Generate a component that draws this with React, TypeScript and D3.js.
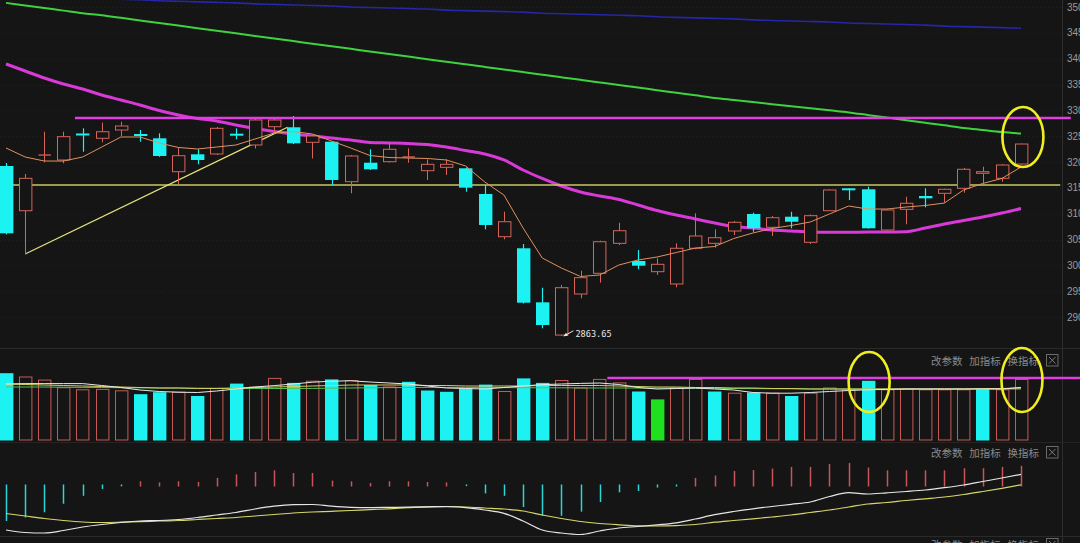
import React from 'react';
import * as d3 from 'd3';

// ---------- data ----------
const opens = [3192.3, 3105.7, 3212.6, 3203.9, 3255.2, 3245.9, 3261.9, 3254.2, 3245.9, 3181.2, 3214.9, 3215.5, 3254.8, 3232.9, 3268.3, 3267.2, 3238.1, 3239.3, 3161.9, 3198.6, 3200.6, 3207.7, 3183.2, 3189.7, 3187.8, 3138.1, 3055.4, 3033.0, 2928.4, 2865.0, 2944.5, 2984.6, 3042.6, 3008.4, 2987.7, 2963.9, 3033.0, 3042.6, 3066.4, 3099.4, 3073.6, 3094.1, 3044.6, 3105.7, 3149.1, 3147.2, 3068.4, 3108.4, 3134.2, 3139.4, 3149.1, 3178.1, 3168.4, 3196.1];
const highs = [3198.1, 3176.8, 3258.6, 3258.6, 3265.2, 3276.1, 3278.0, 3261.9, 3255.5, 3228.4, 3224.6, 3267.7, 3265.2, 3285.2, 3287.1, 3289.0, 3252.3, 3240.6, 3213.5, 3224.6, 3237.4, 3226.5, 3205.2, 3205.2, 3189.3, 3155.5, 3103.8, 3041.3, 2956.7, 2961.9, 2989.6, 3047.7, 3082.5, 3029.7, 3013.6, 3042.6, 3100.7, 3069.7, 3085.8, 3101.9, 3095.5, 3103.8, 3098.4, 3146.8, 3149.7, 3152.2, 3108.1, 3132.8, 3149.1, 3148.3, 3188.4, 3190.9, 3196.1, 3235.8];
const lows = [3060.0, 3021.9, 3199.4, 3197.5, 3219.9, 3238.1, 3250.3, 3239.3, 3210.0, 3157.4, 3195.5, 3213.5, 3243.9, 3226.1, 3255.5, 3234.8, 3206.8, 3155.5, 3139.4, 3184.5, 3199.0, 3198.6, 3165.2, 3174.8, 3142.5, 3069.7, 3050.4, 2926.1, 2878.1, 2863.65, 2936.2, 2966.4, 3039.3, 2992.3, 2981.3, 2957.5, 3031.0, 3034.1, 3058.7, 3065.1, 3056.8, 3071.7, 3041.3, 3105.2, 3126.4, 3071.3, 3067.4, 3079.4, 3112.3, 3121.2, 3140.6, 3158.8, 3161.9, 3195.2];
const closes = [3062.0, 3168.4, 3213.5, 3249.0, 3253.2, 3258.6, 3269.7, 3251.3, 3211.6, 3212.2, 3203.9, 3265.2, 3252.8, 3281.3, 3281.3, 3236.2, 3250.3, 3165.2, 3211.6, 3185.9, 3224.6, 3209.7, 3195.5, 3195.5, 3150.3, 3078.1, 3084.4, 2927.7, 2884.5, 2956.7, 2976.1, 3045.7, 3067.0, 2999.3, 3002.0, 3033.0, 3056.8, 3053.5, 3083.3, 3071.7, 3092.2, 3084.4, 3096.1, 3145.8, 3145.8, 3071.7, 3107.1, 3120.1, 3129.7, 3147.2, 3185.9, 3181.2, 3194.2, 3234.8];

const ma5 = [3227.1, 3209.7, 3201.9, 3201.9, 3209.7, 3229.0, 3248.4, 3248.4, 3236.8, 3228.1, 3225.2, 3229.0, 3232.9, 3244.5, 3256.1, 3259.0, 3254.2, 3240.6, 3227.1, 3212.6, 3208.7, 3207.7, 3206.8, 3203.9, 3192.3, 3161.3, 3136.1, 3072.3, 3014.2, 2994.8, 2978.4, 2981.3, 3000.6, 3010.3, 3016.1, 3024.8, 3033.5, 3036.4, 3051.9, 3062.6, 3071.3, 3077.1, 3083.9, 3099.4, 3114.8, 3109.0, 3109.0, 3112.9, 3115.8, 3120.6, 3145.8, 3158.4, 3168.1, 3190.3];
const ma20 = [3389.7, 3376.1, 3362.6, 3351.0, 3341.3, 3329.7, 3320.0, 3310.3, 3299.7, 3291.0, 3284.2, 3279.4, 3271.6, 3264.8, 3259.0, 3254.2, 3250.3, 3246.4, 3242.6, 3237.7, 3236.8, 3235.8, 3233.9, 3229.0, 3222.3, 3215.5, 3203.9, 3184.5, 3168.1, 3153.5, 3141.9, 3134.2, 3127.4, 3116.8, 3106.1, 3097.4, 3089.7, 3081.9, 3075.2, 3072.3, 3068.4, 3066.4, 3064.5, 3063.9, 3063.9, 3064.5, 3064.5, 3065.1, 3072.3, 3080.0, 3086.8, 3093.5, 3101.3, 3110.0];
const ma60 = [3508, 3503, 3498, 3493, 3488, 3484, 3479, 3474, 3469, 3464, 3459, 3454, 3449, 3444, 3439, 3434, 3429, 3424, 3419, 3414, 3409, 3404, 3399, 3394, 3389, 3384, 3379, 3374, 3369, 3364, 3359, 3354, 3349, 3344, 3339, 3334, 3329, 3324, 3320, 3316, 3312, 3308, 3304, 3300, 3296, 3291, 3286, 3281, 3276, 3271, 3266, 3262, 3258, 3255];
const ma120 = [3522, 3521, 3519, 3518, 3517, 3516, 3515, 3514, 3512, 3511, 3510, 3509, 3508, 3506, 3505, 3504, 3503, 3502, 3500, 3499, 3498, 3497, 3496, 3494, 3493, 3492, 3491, 3490, 3488, 3487, 3486, 3485, 3484, 3483, 3481, 3480, 3479, 3478, 3477, 3475, 3474, 3473, 3472, 3471, 3469, 3468, 3467, 3466, 3465, 3463, 3462, 3461, 3460, 3459];

const volumes = [66.8, 63, 59.9, 52.3, 50.2, 50.6, 49.2, 45.8, 47.8, 47.8, 44, 51.6, 56.4, 53, 61.6, 57.1, 58.8, 60.6, 59.5, 55, 53, 58.2, 49.5, 48.2, 51.6, 55.4, 48.5, 61.6, 57.1, 59.5, 52, 60.6, 57.1, 48.5, 40.6, 52, 60.6, 48.5, 46.8, 47.5, 46.8, 44, 46.8, 52, 50.2, 59.2, 50.2, 50.9, 50.2, 50.2, 50.2, 50.9, 50.2, 60.6];
// 1 = up (red hollow), -1 = down (cyan), 0 = green
const volDirs = [-1, 1, 1, 1, 1, 1, 1, -1, -1, 1, -1, 1, -1, 1, 1, -1, 1, -1, 1, -1, 1, -1, -1, -1, -1, -1, 1, -1, -1, 1, 1, 1, 1, -1, 0, 1, 1, -1, 1, -1, 1, -1, 1, 1, 1, -1, 1, 1, 1, 1, 1, -1, 1, 1];
const volMa5 = [56, 56.4, 56.4, 56.4, 56.4, 54.5, 52.5, 50, 48.5, 47.8, 47.5, 49, 51, 53, 54.4, 56, 57.8, 58.8, 59.2, 58, 57, 56, 54, 52, 51.5, 51, 52.5, 54, 55.4, 56, 56.6, 57, 55.5, 52.5, 51, 51.5, 52, 51, 50, 47.5, 46.8, 46.8, 47.5, 48.5, 49.5, 50.2, 50.6, 51, 51, 51, 51, 51, 51, 52.6];
const volMa10 = [56, 55.5, 55, 54.5, 54, 53.5, 53, 52.5, 52, 52, 51.5, 51.5, 52, 52.5, 53, 53.5, 54, 54.5, 55, 55, 55, 55, 54.5, 54.5, 54, 54, 54, 54, 54.5, 54.5, 54.5, 54.5, 54, 53.5, 53, 53, 52.5, 52.5, 52, 52, 51.5, 51.5, 51, 51, 51, 51, 51, 51, 51, 51, 51, 51.5, 51.5, 52];
const volMa20 = [53, 53, 53, 52.8, 52.6, 52.5, 52.3, 52.2, 52, 52, 51.8, 51.7, 51.6, 51.5, 51.5, 51.5, 51.6, 51.8, 52, 52.2, 52.4, 52.5, 52.6, 52.6, 52.6, 52.5, 52.4, 52.3, 52.2, 52.2, 52.1, 52, 52, 52, 51.9, 51.8, 51.7, 51.6, 51.5, 51.4, 51.3, 51.2, 51.1, 51, 51, 51, 51, 51, 51, 51, 51, 51, 51, 51];

const macdHist = [-35.5, -32, -26.8, -18.2, -10.3, -3.4, -0.8, 4.2, 3.1, 4.2, 3.5, 7.6, 11.1, 13.5, 15.2, 12.5, 12.5, 4.9, 4.2, 2.5, 4.2, 4.2, 3.5, 3.1, -0.6, -7.9, -10.3, -21.5, -30.3, -30.3, -26.1, -16.5, -6.8, -5.5, -2, -1, 7.6, 10, 14.5, 15.5, 16.9, 18.6, 18.6, 21.4, 22.5, 18, 15.2, 15.2, 15.2, 15.2, 17.3, 17.3, 18.6, 19.7];
const dif = [-44.5, -47, -47.5, -45, -41.5, -39, -37, -35.5, -35, -34, -32, -29.5, -27, -23.5, -20.7, -19.2, -19, -20.7, -21.8, -22.1, -21.9, -21.6, -21.3, -21, -22.1, -24.5, -27.8, -35.5, -44.5, -47.5, -49, -45.5, -42.5, -41, -39.3, -37.3, -33.5, -29.2, -26, -23.3, -21, -18.8, -16.5, -11, -7.2, -8.5, -7.3, -6, -4.5, -2.2, 0.5, 4, 7.5, 11.1];
const dea = [-28, -30.5, -33, -35, -36.5, -37, -36.7, -36.2, -35.5, -35, -34, -33, -32, -30.5, -29, -27.5, -26.5, -25.8, -25, -24.1, -23.3, -22.2, -21.3, -21.2, -21.5, -22.5, -23.5, -25.5, -29.5, -33, -36, -38, -39.3, -40.3, -40.5, -40.1, -39, -36.7, -35, -33.3, -31.5, -29.5, -27, -24.5, -21.5, -18.5, -17, -15, -13.3, -11.5, -9, -6, -2.8, 0.7];

const priceTicks = [3500, 3450, 3400, 3350, 3300, 3250, 3200, 3150, 3100, 3050, 3000, 2950, 2900];
const lowIndex = 29;
const lowLabel = '2863.65';
const resistance = 3285.2; // magenta horizontal
const support = 3155.5; // yellow horizontal
const trendStart = [1, 3021.9];
const trendEnd = [14.7, 3267.2];
const volMark = 62; // magenta line in volume panel
const panelButtons = ['改参数', '加指标', '换指标'];

// ---------- styling ----------
const BG = '#151515';
const RED = '#d8645a';
const VRED = '#c55a55';
const CYAN = '#1cf2f2';
const W = 1080;
const H = 543;

const xs = d3.scaleLinear().domain([0, 53]).range([6, 1021]);
const ys = d3.scaleLinear().domain([2900, 3500]).range([317, 7]);
const vs = d3.scaleLinear().domain([0, 90]).range([440, 350]);
const ms = d3.scaleLinear().domain([-55, 45]).range([540.5, 440.5]);

function path(arr: number[], sc: (v: number) => number, curve: d3.CurveFactory = d3.curveLinear) {
  return d3.line<number>().x((_, i) => xs(i)).y((d) => sc(d)).curve(curve)(arr) || '';
}

function Buttons({ y }: { y: number }) {
  return (
    <g fontFamily='"Noto Sans CJK SC", sans-serif' fontSize={10.5} fill="#8a8a8a">
      {panelButtons.map((t, k) => (
        <text key={t} x={931 + k * 38.3} y={y}>{t}</text>
      ))}
      <rect x={1046.5} y={y - 10.5} width={11.5} height={11.5} fill="none" stroke="#6a6a6a" strokeWidth={1} />
      <line x1={1049} y1={y - 8} x2={1055.5} y2={y - 1.5} stroke="#7a7a7a" />
      <line x1={1055.5} y1={y - 8} x2={1049} y2={y - 1.5} stroke="#7a7a7a" />
    </g>
  );
}

export default function App() {
  const bw = 12.4;
  return (
    <div style={{ position: 'absolute', left: 0, top: 0, width: W, height: H, overflow: 'hidden' }}>
      <svg width={W} height={H} style={{ display: 'block', background: BG }}>
        <defs>
          <clipPath id="mainClip"><rect x={0} y={0} width={1062} height={348} /></clipPath>
        </defs>
        <rect x={0} y={0} width={W} height={H} fill={BG} />

        {/* faint grid */}
        {priceTicks.map((p) => (
          <line key={'g' + p} x1={0} x2={1062} y1={Math.round(ys(p)) + 0.5} y2={Math.round(ys(p)) + 0.5} stroke="#222" strokeDasharray="1 3" />
        ))}

        {/* panel separators and axis */}
        <line x1={0} x2={W} y1={348.5} y2={348.5} stroke="#2a2a2a" />
        <line x1={0} x2={W} y1={442.5} y2={442.5} stroke="#242424" />
        <line x1={0} x2={W} y1={536.5} y2={536.5} stroke="#2a2a2a" />
        <line x1={1062.5} x2={1062.5} y1={0} y2={H} stroke="#2e2e2e" />

        {/* axis labels */}
        <g fontFamily='"Liberation Sans", Arial, sans-serif' fontSize={10} fill="#9a9a9a">
          {priceTicks.map((p) => (
            <text key={'t' + p} x={1067} y={ys(p) + 3.5}>{p}</text>
          ))}
        </g>

        {/* main chart */}
        <g clipPath="url(#mainClip)">
          <path d={path(ma120, ys, d3.curveMonotoneX)} fill="none" stroke="#2626a8" strokeWidth={1.6} />
          <path d={path(ma60, ys, d3.curveMonotoneX)} fill="none" stroke="#3ed23e" strokeWidth={2} />
          <path d={path(ma20, ys, d3.curveMonotoneX)} fill="none" stroke="#d83ad8" strokeWidth={3} />
          <line x1={xs(-0.35)} x2={xs(55.05)} y1={ys(support)} y2={ys(support)} stroke="#c8c862" strokeWidth={1.5} />
          <line x1={xs(trendStart[0])} y1={ys(trendStart[1])} x2={xs(trendEnd[0])} y2={ys(trendEnd[1])} stroke="#e4e47a" strokeWidth={1.2} />

          {opens.map((o, i) => {
            const c = closes[i];
            const h = highs[i];
            const l = lows[i];
            const cx = Math.round(xs(i)) + 0.5;
            const left = Math.round(xs(i) - bw / 2) + 0.5;
            const yTop = ys(Math.max(o, c));
            const yBot = ys(Math.min(o, c));
            const up = c >= o;
            if (up) {
              return (
                <g key={'c' + i}>
                  <line x1={cx} x2={cx} y1={ys(h)} y2={yTop} stroke={RED} />
                  <line x1={cx} x2={cx} y1={yBot} y2={ys(l)} stroke={RED} />
                  {yBot - yTop < 1.5 ? (
                    <line x1={left} x2={left + bw} y1={yTop} y2={yTop} stroke={RED} strokeWidth={1.3} />
                  ) : (
                    <rect x={left} y={yTop} width={bw} height={yBot - yTop} fill={BG} stroke={RED} strokeWidth={1} />
                  )}
                </g>
              );
            }
            return (
              <g key={'c' + i}>
                <line x1={cx} x2={cx} y1={ys(h)} y2={ys(l)} stroke={CYAN} strokeWidth={1.2} />
                <rect x={left - 0.5} y={yTop} width={bw + 1} height={Math.max(2, yBot - yTop)} fill={CYAN} />
              </g>
            );
          })}

          <path d={path(ma5, ys)} fill="none" stroke="#e0915f" strokeWidth={1} />
        </g>

        <line x1={xs(3.6)} x2={xs(55.6)} y1={ys(resistance)} y2={ys(resistance)} stroke="#e03ee0" strokeWidth={2.6} />
        <ellipse cx={xs(53.1)} cy={ys(3248.4)} rx={20.5} ry={30} fill="none" stroke="#eeee22" strokeWidth={2.6} />

        {/* low label */}
        <line x1={xs(lowIndex) + 12} y1={ys(lows[lowIndex]) - 5} x2={xs(lowIndex) + 3} y2={ys(lows[lowIndex])} stroke="#e8e8e8" strokeWidth={1} />
        <path d={`M${xs(lowIndex) + 2},${ys(lows[lowIndex]) + 0.5} l4.5,-0.5 l-1.8,-3 z`} fill="#e8e8e8" />
        <text x={xs(lowIndex) + 14} y={ys(lows[lowIndex]) + 1} fontFamily='"DejaVu Sans Mono", monospace' fontSize={8.6} fill="#e8e8e8">{lowLabel}</text>

        {/* volume panel */}
        <Buttons y={365} />
        {volumes.map((v, i) => {
          const left = Math.round(xs(i) - bw / 2) + 0.5;
          const top = vs(v);
          const d = volDirs[i];
          if (d === 1) {
            return <rect key={'v' + i} x={left} y={top} width={bw} height={440 - top} fill="none" stroke={VRED} strokeWidth={1} />;
          }
          return <rect key={'v' + i} x={left - 0.5} y={top} width={bw + 1} height={440.5 - top} fill={d === 0 ? '#1ee01e' : CYAN} />;
        })}
        <path d={path(volMa20, vs)} fill="none" stroke="#58c058" strokeWidth={1} />
        <path d={path(volMa10, vs)} fill="none" stroke="#d0d060" strokeWidth={1} />
        <path d={path(volMa5, vs)} fill="none" stroke="#e8e8e8" strokeWidth={1} />
        <line x1={xs(31.4)} x2={W} y1={vs(volMark)} y2={vs(volMark)} stroke="#e03ee0" strokeWidth={2.6} />
        <ellipse cx={xs(45.07)} cy={382} rx={20.5} ry={30} fill="none" stroke="#eeee22" strokeWidth={2.6} />
        <ellipse cx={xs(53.05)} cy={380} rx={20.5} ry={32} fill="none" stroke="#eeee22" strokeWidth={2.6} />

        {/* MACD panel */}
        <Buttons y={457} />
        {macdHist.map((v, i) => {
          const cx = Math.round(xs(i)) + 0.5;
          const y0 = ms(0);
          return (
            <line key={'m' + i} x1={cx} x2={cx} y1={v >= 0 ? y0 + 1 : y0 - 1} y2={ms(v)} stroke={v >= 0 ? '#c8545a' : '#2ad6d6'} strokeWidth={1.5} />
          );
        })}
        <path d={path(dea, ms, d3.curveMonotoneX)} fill="none" stroke="#d6d66a" strokeWidth={1.2} />
        <path d={path(dif, ms, d3.curveMonotoneX)} fill="none" stroke="#e6e6e6" strokeWidth={1.2} />

        <Buttons y={549} />
      </svg>
    </div>
  );
}
